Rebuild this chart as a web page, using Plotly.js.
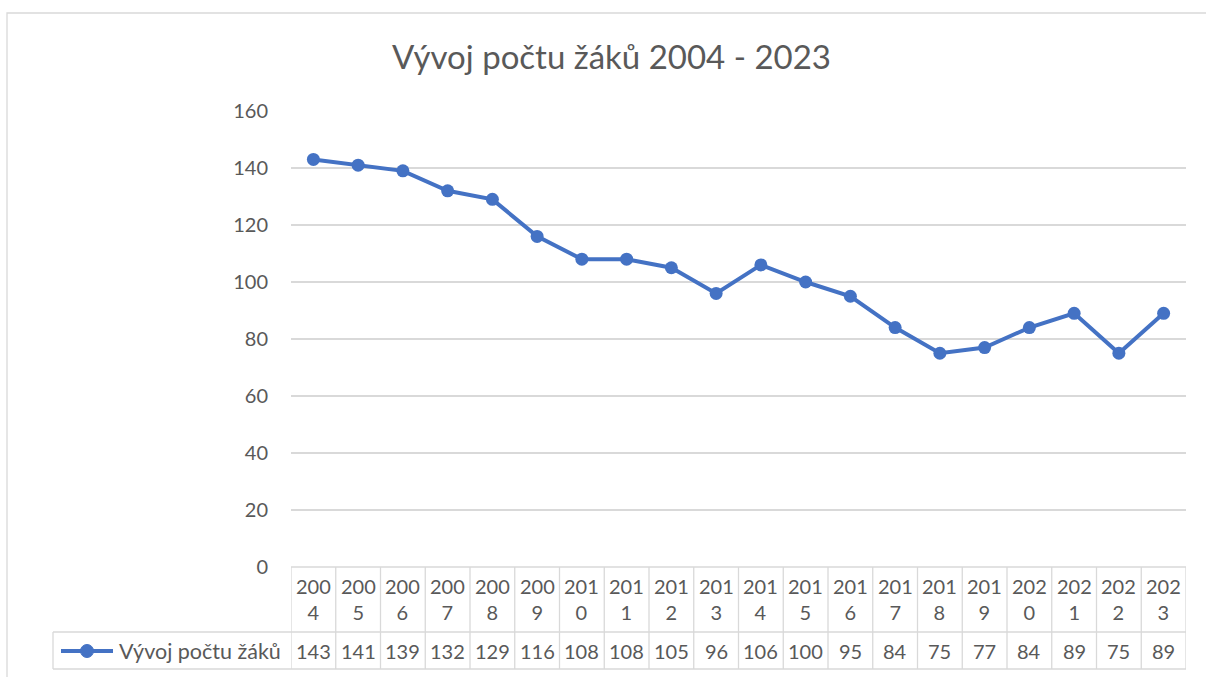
<!DOCTYPE html>
<html><head><meta charset="utf-8">
<script src="https://cdn.plot.ly/plotly-3.0.1.min.js"></script>
<style>html,body{margin:0;padding:0;background:#fff;}</style>
</head><body>
<div id="chart" style="width:1206px;height:677px;"></div>
<script>
const years = [2004,2005,2006,2007,2008,2009,2010,2011,2012,2013,2014,2015,2016,2017,2018,2019,2020,2021,2022,2023];
const values = [143,141,139,132,129,116,108,108,105,96,106,100,95,84,75,77,84,89,75,89];
const seriesName = 'Vývoj počtu žáků';
const chartTitle = 'Vývoj počtu žáků 2004 - 2023';
const yTicks = [0,20,40,60,80,100,120,140,160];

const W = 1206, H = 677;
const M = {l:291, r:20, t:111, b:110};
const plotW = W - M.l - M.r, plotH = H - M.t - M.b;
const px = x => (x - M.l) / plotW;          // pixel x -> paper x
const py = y => (H - M.b - y) / plotH;      // pixel y -> paper y
const grey = '#d9d9d9', txt = '#595959', blue = '#4472C4';
const FONT = 'Lato, "Open Sans", sans-serif';
const FS = 20;

const xs = years.map((_, i) => i);
const n = years.length;

const shapes = [];
const annotations = [];
// chart border
shapes.push({type:'rect', xref:'paper', yref:'paper', x0:px(7), x1:px(1215), y0:py(13), y1:py(690),
  line:{color:grey, width:1.3}, fillcolor:'rgba(0,0,0,0)', layer:'below'});
// table lines
const rowTop = 567, rowMid = 632, rowBot = 669, legLeft = 53;
shapes.push({type:'line', xref:'x', yref:'paper', x0:-0.5, x1:n-0.5, y0:py(rowTop), y1:py(rowTop), line:{color:grey, width:1.3}});
shapes.push({type:'line', xref:'paper', yref:'paper', x0:px(legLeft), x1:1, y0:py(rowMid), y1:py(rowMid), line:{color:grey, width:1.3}});
shapes.push({type:'line', xref:'paper', yref:'paper', x0:px(legLeft), x1:1, y0:py(rowBot), y1:py(rowBot), line:{color:grey, width:1.3}});
shapes.push({type:'line', xref:'paper', yref:'paper', x0:px(legLeft), x1:px(legLeft), y0:py(rowMid), y1:py(rowBot), line:{color:grey, width:1.3}});
for (let i = 0; i <= n; i++) {
  shapes.push({type:'line', xref:'x', yref:'paper', x0:i-0.5, x1:i-0.5, y0:py(rowTop), y1:py(rowBot), line:{color:grey, width:1.3}});
}
// table text
years.forEach((yr, i) => {
  const s = String(yr);
  annotations.push({xref:'x', yref:'paper', x:i, y:py(599), text:s.slice(0,3)+'<br>'+s.slice(3),
    showarrow:false, font:{family:FONT, size:FS, color:txt}, align:'center', yanchor:'middle'});
  annotations.push({xref:'x', yref:'paper', x:i, y:py(651), text:String(values[i]),
    showarrow:false, font:{family:FONT, size:FS, color:txt}, yanchor:'middle'});
});
// legend key
shapes.push({type:'line', xref:'paper', yref:'paper', x0:px(61), x1:px(113), y0:py(651), y1:py(651), line:{color:blue, width:4}});
shapes.push({type:'circle', xref:'paper', yref:'paper', xsizemode:'pixel', ysizemode:'pixel',
  xanchor:px(87), yanchor:py(651), x0:-6.5, x1:6.5, y0:-6.5, y1:6.5, fillcolor:blue, line:{color:blue, width:1}});
annotations.push({xref:'paper', yref:'paper', x:px(117), y:py(651), text:seriesName, xanchor:'left', yanchor:'middle',
  showarrow:false, font:{family:FONT, size:21.5, color:txt}});

const trace = {
  x: xs, y: values, type:'scatter', mode:'lines+markers', name: seriesName,
  line:{color:blue, width:4}, marker:{color:blue, size:13}, cliponaxis:false
};

const layout = {
  width:W, height:H, autosize:false,
  margin:M, paper_bgcolor:'#fff', plot_bgcolor:'#fff',
  showlegend:false,
  title:{text:chartTitle, font:{family:FONT, size:33, color:txt}, x:0.507, xref:'container', xanchor:'center', y:1-57/H, yref:'container', yanchor:'middle'},
  xaxis:{range:[-0.5, n-0.5], showgrid:false, zeroline:false, showline:false, showticklabels:false, ticks:'', fixedrange:true},
  yaxis:{range:[0,160], tickvals:yTicks, showgrid:true, gridcolor:grey, gridwidth:1.3, zeroline:false, showline:false,
    ticks:'', ticklabelstandoff:22, tickfont:{family:FONT, size:FS, color:txt}},
  shapes, annotations
};
Plotly.newPlot('chart', [trace], layout, {displayModeBar:false, staticPlot:true});
</script>
</body></html>
